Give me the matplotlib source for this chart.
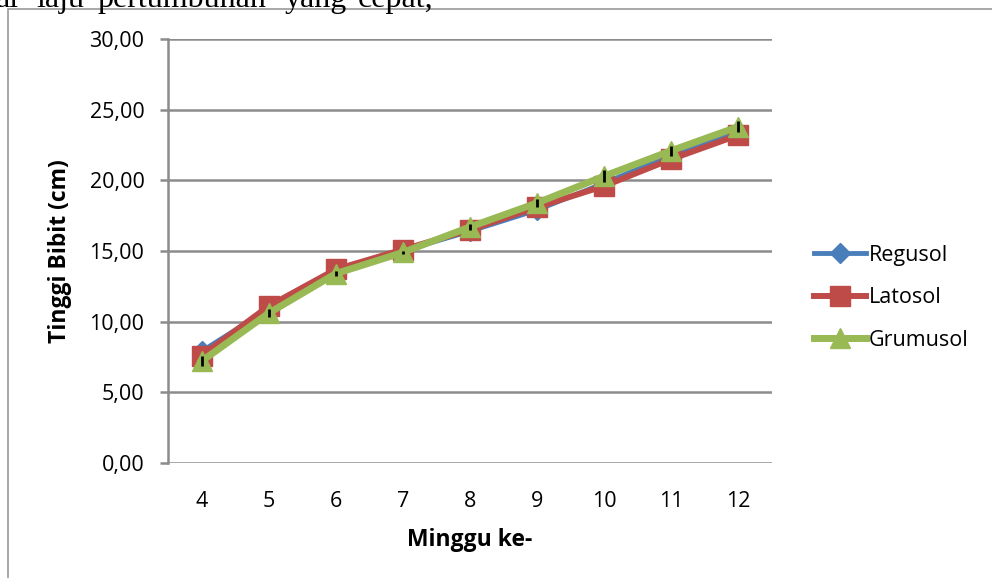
import matplotlib.pyplot as plt
from matplotlib.patches import Rectangle

weeks = ['4', '5', '6', '7', '8', '9', '10', '11', '12']
regusol = [7.9, 10.9, 13.6, 15.0, 16.4, 17.9, 19.8, 21.8, 23.5]
latosol = [7.6, 11.1, 13.7, 15.1, 16.5, 18.1, 19.6, 21.5, 23.2]
grumusol = [7.2, 10.6, 13.4, 14.9, 16.7, 18.4, 20.3, 22.1, 23.8]
err = [0.35, 0.3, 0.2, 0.1, 0.2, 0.3, 0.4, 0.35, 0.4]
yticks = [0, 5, 10, 15, 20, 25, 30]

plt.rcParams['font.family'] = ['Open Sans', 'DejaVu Sans']

fig = plt.figure(figsize=(9.92, 5.78), dpi=100)
fig.patches.append(Rectangle((8 / 992, -0.1), 1.2, 1 - 9 / 578 + 0.1,
                             transform=fig.transFigure, fill=False,
                             edgecolor='#9a9a9a', linewidth=1.2))

# cut-off line of body text above the chart
for word, px in [('ai', -4), ('laju', 36), ('pertumbuhan', 97), ('yang', 285), ('cepat,', 358)]:
    fig.text(px / 992, 1 - 7 / 578, word, family='Liberation Serif',
             fontsize=23, va='baseline')

ax = fig.add_axes([168 / 992, 1 - 463 / 578, 604 / 992, 424 / 578])
x = list(range(len(weeks)))

ax.plot(x, regusol, color='#4a7ebb', lw=3.5, marker='D', ms=10, label='Regusol', zorder=3)
ax.plot(x, latosol, color='#be4b48', lw=4.3, marker='s', ms=14, label='Latosol', zorder=4)
ax.plot(x, grumusol, color='#98b954', lw=5, marker='^', ms=15, label='Grumusol', zorder=5)
ax.errorbar(x, grumusol, yerr=err, fmt='none', ecolor='black', elinewidth=2,
            capsize=0, zorder=6)

ax.set_xlim(-0.5, len(weeks) - 0.5)
ax.set_ylim(0, 30)
ax.set_xticks(x)
ax.set_xticklabels(weeks)
ax.set_yticks(yticks)
ax.set_yticklabels(['%d,00' % v for v in yticks])
ax.yaxis.grid(True, color='#8c8c8c', lw=1.8)
ax.set_axisbelow(True)
for s in ['top', 'right', 'bottom']:
    ax.spines[s].set_visible(False)
ax.spines['left'].set_color('#8c8c8c')
ax.spines['left'].set_linewidth(1.8)
ax.tick_params(axis='y', length=6, width=1.8, color='#8c8c8c', labelsize=15.5, pad=11)
ax.tick_params(axis='x', length=0, labelsize=15.5, pad=20)

ax.set_xlabel('Minggu ke-', fontsize=16.5, fontweight='bold')
ax.set_ylabel('Tinggi Bibit (cm)', fontsize=16.5, fontweight='bold')
ax.xaxis.set_label_coords(0.5, -0.153)
ax.yaxis.set_label_coords(-0.159, 0.5)

ax.legend(loc='center left', bbox_to_anchor=(1.07, 0.39), frameon=False,
          fontsize=15.5, handlelength=2.4, handletextpad=0.15, labelspacing=1.0,
          borderaxespad=0, borderpad=0)

fig.savefig('out.png', dpi=100)
